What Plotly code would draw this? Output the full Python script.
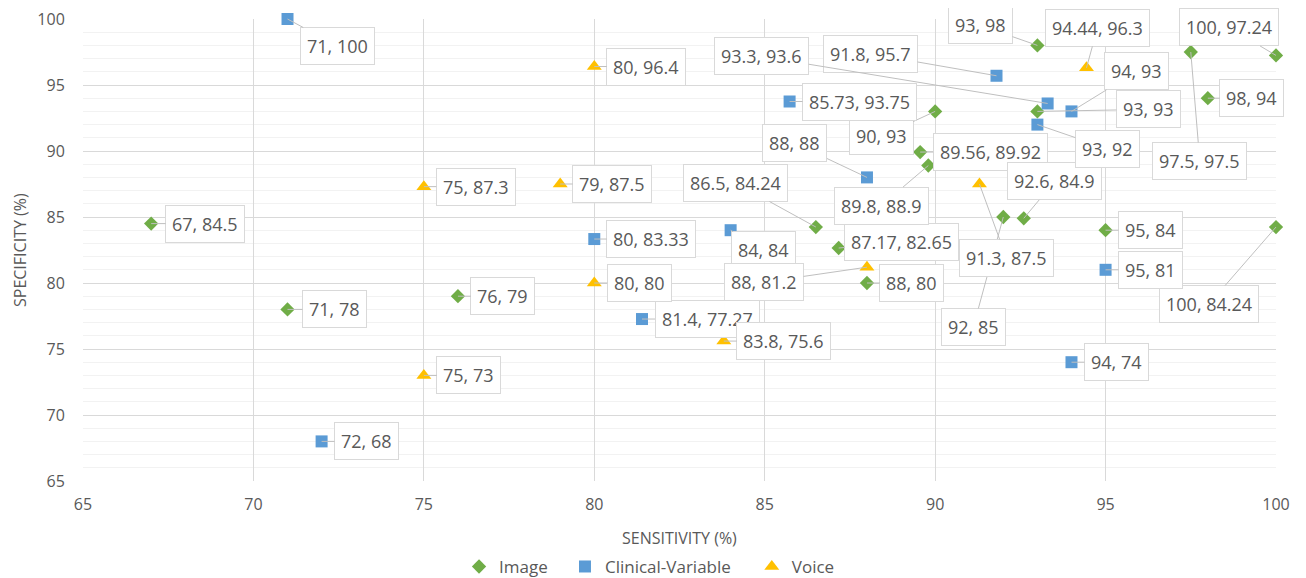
import plotly.graph_objects as go

# ---------------- data ----------------
image_x = [67, 71, 76, 86.5, 87.17, 88, 89.56, 89.8, 90, 92, 92.6, 93, 93, 95, 97.5, 98, 100, 100]
image_y = [84.5, 78, 79, 84.24, 82.65, 80, 89.92, 88.9, 93, 85, 84.9, 98, 93, 84, 97.5, 94, 97.24, 84.24]

clin_x = [71, 72, 80, 81.4, 84, 85.73, 88, 91.8, 93.3, 94, 93, 95, 94]
clin_y = [100, 68, 83.33, 77.27, 84, 93.75, 88, 95.7, 93.6, 93, 92, 81, 74]

voice_x = [75, 75, 79, 80, 80, 83.8, 88, 91.3, 94.44]
voice_y = [87.3, 73, 87.5, 96.4, 80, 75.6, 81.2, 87.5, 96.3]

x_ticks = [65, 70, 75, 80, 85, 90, 95, 100]
y_ticks = [65, 70, 75, 80, 85, 90, 95, 100]

x_title = "SENSITIVITY (%)"
y_title = "SPECIFICITY (%)"

# ---------------- label placement (pixel offsets of callout boxes) ----------------
image_off = [(54, 0), (47, 0), (45, 0), (-80, -44), (63, -6), (45, 0), (70, 0), (-47, 40),
             (-54, 25), (-30, 110), (31, -37), (-57, -20), (111, -2), (45, 0), (9, 109),
             (44, 0), (-47, -28), (-67, 77)]
clin_off = [(50, 27), (45, 0), (57, 0), (65, 0), (33, 20), (70, 0), (-72, -34), (-126, -22),
            (-286, -47), (65, -40), (70, 24), (45, 0), (45, 0)]
voice_off = [(52, 0), (45, 0), (52, 0), (52, 0), (45, 0), (60, 0), (-103, 15), (27, 74), (11, -40)]

GREEN = "#70AD47"
BLUE = "#5B9BD5"
YELLOW = "#FFC000"
TXT = "#595959"
FONT = "Open Sans, Lato, sans-serif"

fig = go.Figure()
fig.add_trace(go.Scatter(x=image_x, y=image_y, mode="markers", name="Image", legend="legend",
                         cliponaxis=False,
                         marker=dict(symbol="diamond", size=11, color=GREEN)))
fig.add_trace(go.Scatter(x=clin_x, y=clin_y, mode="markers", name="Clinical-Variable", legend="legend2",
                         cliponaxis=False,
                         marker=dict(symbol="square", size=12, color=BLUE)))
fig.add_trace(go.Scatter(x=voice_x, y=voice_y, mode="markers", name="Voice", legend="legend3",
                         cliponaxis=False,
                         marker=dict(symbol="triangle-up", size=13, color=YELLOW)))


def fmt(v):
    return f"{v:g}"


annotations = []
for xs, ys, offs in [(image_x, image_y, image_off), (clin_x, clin_y, clin_off),
                     (voice_x, voice_y, voice_off)]:
    for x, y, (ax, ay) in zip(xs, ys, offs):
        annotations.append(dict(
            x=x, y=y, xref="x", yref="y", text=f"{fmt(x)}, {fmt(y)}",
            showarrow=True, arrowhead=0, arrowwidth=1, arrowcolor="#BFBFBF",
            ax=ax, ay=ay, standoff=0,
            bgcolor="white", bordercolor="#D9D9D9", borderwidth=1, borderpad=6,
            font=dict(family=FONT, size=18, color=TXT)))

# axis titles
annotations.append(dict(text=x_title, xref="paper", yref="paper", x=0.5, y=-0.1234,
                        xanchor="center", yanchor="middle", showarrow=False,
                        font=dict(family=FONT, size=16, color=TXT)))
annotations.append(dict(text=y_title, xref="paper", yref="paper", x=-0.0528, y=0.5,
                        xanchor="center", yanchor="middle", showarrow=False, textangle=-90,
                        font=dict(family=FONT, size=16, color=TXT)))

leg_common = dict(orientation="h", yanchor="middle", y=-0.186, xanchor="left",
                  font=dict(family=FONT, size=17, color=TXT), itemwidth=30,
                  bgcolor="rgba(0,0,0,0)")

# page body has an 8px margin, so the figure is drawn 8px smaller and offset
fig.update_layout(
    width=1298, height=570,
    margin=dict(l=75, r=30, t=11, b=97, autoexpand=False),
    paper_bgcolor="white", plot_bgcolor="white",
    font=dict(family=FONT, color=TXT, size=16),
    annotations=annotations,
    showlegend=True,
    legend=dict(x=0.3152, **leg_common),
    legend2=dict(x=0.4040, **leg_common),
    legend3=dict(x=0.5606, **leg_common),
    xaxis=dict(range=[65, 100], tickvals=x_ticks, showgrid=True, gridcolor="#D9D9D9",
               zeroline=False, showline=False, ticks="outside", ticklen=9,
               tickcolor="rgba(0,0,0,0)", automargin=False, ticklabeloverflow="allow",
               tickfont=dict(family=FONT, size=16, color=TXT)),
    yaxis=dict(range=[65, 100], tickvals=y_ticks, showgrid=True, gridcolor="#D9D9D9",
               zeroline=False, showline=False, ticks="outside", ticklen=14,
               tickcolor="rgba(0,0,0,0)", automargin=False, ticklabeloverflow="allow",
               minor=dict(dtick=1, showgrid=True, gridcolor="#F2F2F2", ticks=""),
               tickfont=dict(family=FONT, size=16, color=TXT)),
)

fig.write_html("out.html")
